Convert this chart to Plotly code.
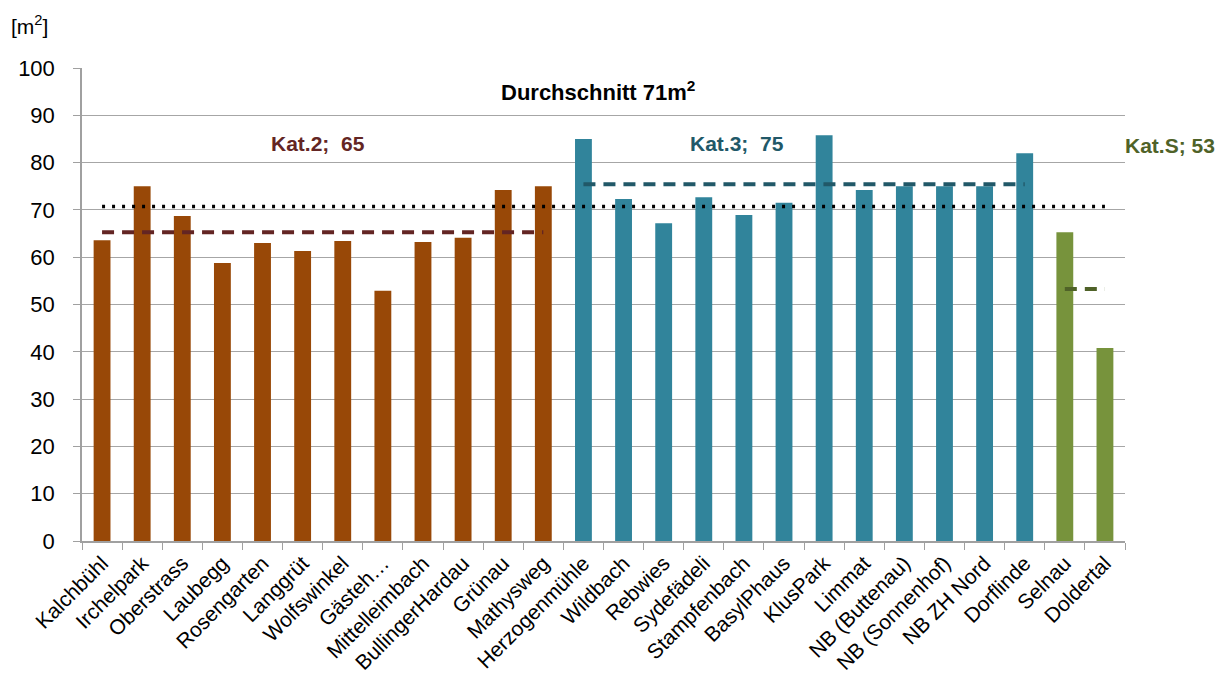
import plotly.graph_objects as go

categories = ["Kalchbühl", "Irchelpark", "Oberstrass", "Laubegg", "Rosengarten", "Langgrüt",
              "Wolfswinkel", "Gästeh…", "Mittelleimbach", "BullingerHardau", "Grünau", "Mathysweg",
              "Herzogenmühle", "Wildbach", "Rebwies", "Sydefädeli", "Stampfenbach", "BasylPhaus",
              "KlusPark", "Limmat", "NB (Buttenau)", "NB (Sonnenhof)", "NB ZH Nord", "Dorflinde",
              "Selnau", "Doldertal"]
values = [63.6, 75.0, 68.7, 58.8, 63.0, 61.3, 63.4, 52.9, 63.2, 64.1, 74.2, 75.0,
          85.0, 72.3, 67.2, 72.7, 68.9, 71.5, 85.8, 74.2, 75.0, 75.0, 75.0, 82.0,
          65.3, 40.8]
category_group = ["Kat.2"] * 12 + ["Kat.3"] * 12 + ["Kat.S"] * 2

average_all = 70.7
average_kat2 = 65.3
average_kat3 = 75.4
average_kats = 53.3

bar_colors = {"Kat.2": "#984807", "Kat.3": "#31849B", "Kat.S": "#77933C"}
line_colors = {"Kat.2": "#632523", "Kat.3": "#215868", "Kat.S": "#4F6228"}

fig = go.Figure()
fig.add_trace(go.Bar(
    x=categories, y=values,
    marker=dict(color=[bar_colors[g] for g in category_group], line=dict(width=0)),
    showlegend=False, hoverinfo="x+y"))

# overall average (dotted)
fig.add_trace(go.Scatter(
    x=categories, y=[average_all] * len(categories), mode="lines",
    line=dict(color="black", width=3.5, dash="3px,7px"), showlegend=False))

# category averages (dashed)
for g, avg in [("Kat.2", average_kat2), ("Kat.3", average_kat3), ("Kat.S", average_kats)]:
    xs = [c for c, gg in zip(categories, category_group) if gg == g]
    fig.add_trace(go.Scatter(
        x=xs, y=[avg] * len(xs), mode="lines",
        line=dict(color=line_colors[g], width=4, dash="12px,8px"), showlegend=False))

font_family = "Liberation Sans, Arial, sans-serif"

fig.update_layout(
    width=1224, height=688,
    margin=dict(l=74, r=107, t=60, b=155),
    paper_bgcolor="white", plot_bgcolor="white",
    bargap=0.58,
    font=dict(family=font_family, color="black"),
    xaxis=dict(
        type="category", tickangle=-45, tickfont=dict(size=21, color="black"),
        showline=True, linecolor="#A0A0A0", linewidth=1.5,
        ticks="outside", tickson="boundaries", ticklen=7, tickcolor="#A0A0A0",
        showgrid=False, automargin=False),
    yaxis=dict(
        range=[0, 100], dtick=10, tickfont=dict(size=22, color="black"),
        showline=True, linecolor="#A0A0A0", linewidth=1.5,
        ticks="outside", ticklen=7, tickcolor="#A0A0A0",
        showgrid=True, gridcolor="#A6A6A6", gridwidth=1.2,
        ticklabelstandoff=14, zeroline=False, automargin=False),
    annotations=[
        dict(text="[m<sup>2</sup>]", xref="paper", yref="paper", xanchor="center", yanchor="middle",
             x=-0.05, y=1.091, showarrow=False, font=dict(size=21, color="black")),
        dict(text="<b>Durchschnitt 71m<sup>2</sup></b>", xref="paper", yref="y",
             xanchor="center", yanchor="middle",
             x=0.4947, y=95.1, showarrow=False, font=dict(size=22, color="black")),
        dict(text="<b>Kat.2;  65</b>", xref="paper", yref="y", xanchor="center", yanchor="middle",
             x=0.226, y=84.1, showarrow=False, font=dict(size=21, color=line_colors["Kat.2"])),
        dict(text="<b>Kat.3;  75</b>", xref="paper", yref="y", xanchor="center", yanchor="middle",
             x=0.628, y=84.1, showarrow=False, font=dict(size=21, color=line_colors["Kat.3"])),
        dict(text="<b>Kat.S; 53</b>", xref="paper", yref="y", xanchor="center", yanchor="middle",
             x=1.043, y=83.7, showarrow=False, font=dict(size=21, color=line_colors["Kat.S"])),
    ],
)

fig.write_html("out.html")
